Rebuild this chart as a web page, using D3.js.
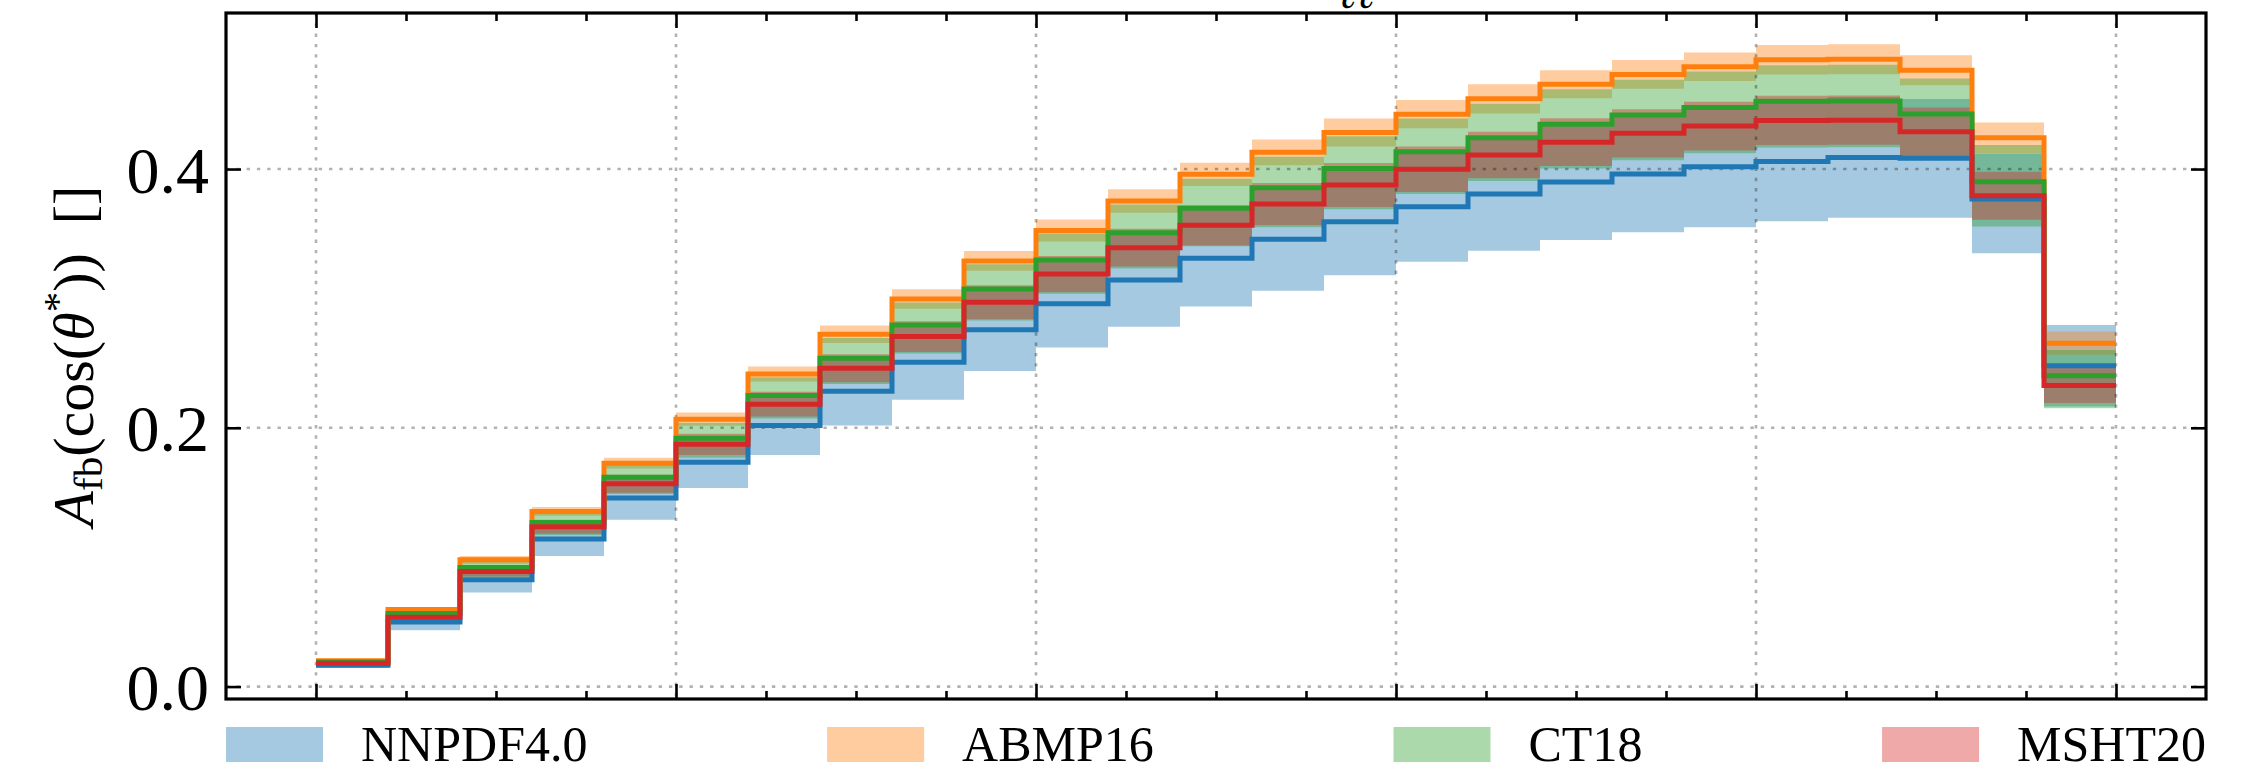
<!DOCTYPE html>
<html><head><meta charset="utf-8">
<script src="https://cdn.jsdelivr.net/npm/d3@7"></script>
<style>
html,body{margin:0;padding:0;background:#fff;}
svg{display:block;}
</style></head><body>
<svg id="chart" width="2260" height="772"></svg>
<script>
// ---------------- data ----------------
const seriesNames  = ["NNPDF4.0", "ABMP16", "CT18", "MSHT20"];
const seriesColors = ["#1f77b4", "#ff7f0e", "#2ca02c", "#d62728"];
const binEdges = [0,1,2,3,4,5,6,7,8,9,10,11,12,13,14,15,16,17,18,19,20,21,22,23,24,25];

const nnpdfCentral = [0.0165,0.0499,0.0826,0.1140,0.1457,0.1734,0.2018,0.2283,0.2507,0.2757,0.2958,0.3143,0.3310,0.3457,0.3593,0.3709,0.3807,0.3900,0.3961,0.4018,0.4059,0.4090,0.4083,0.3768,0.2479];
const nnpdfLow     = [0.0145,0.0435,0.0728,0.1010,0.1290,0.1534,0.1790,0.2018,0.2216,0.2440,0.2620,0.2782,0.2937,0.3060,0.3179,0.3284,0.3369,0.3452,0.3511,0.3550,0.3597,0.3624,0.3624,0.3349,0.2165];
const nnpdfHigh    = [0.0185,0.0563,0.0924,0.1270,0.1624,0.1934,0.2246,0.2548,0.2798,0.3074,0.3296,0.3504,0.3683,0.3854,0.4007,0.4134,0.4245,0.4348,0.4411,0.4486,0.4521,0.4556,0.4542,0.4120,0.2795];

const abmpCentral  = [0.0200,0.0595,0.0980,0.1354,0.1727,0.2067,0.2415,0.2723,0.2996,0.3290,0.3525,0.3753,0.3959,0.4129,0.4283,0.4424,0.4543,0.4656,0.4731,0.4790,0.4844,0.4849,0.4764,0.4242,0.2654];
const abmpLow      = [0.0190,0.0575,0.0950,0.1320,0.1686,0.2015,0.2357,0.2656,0.2921,0.3213,0.3440,0.3663,0.3869,0.4029,0.4175,0.4315,0.4430,0.4548,0.4620,0.4680,0.4730,0.4733,0.4648,0.4124,0.2564];
const abmpHigh     = [0.0210,0.0615,0.1010,0.1388,0.1768,0.2119,0.2473,0.2790,0.3071,0.3367,0.3610,0.3843,0.4049,0.4229,0.4391,0.4533,0.4656,0.4764,0.4842,0.4900,0.4958,0.4965,0.4880,0.4360,0.2744];

const ct18Central  = [0.0190,0.0564,0.0920,0.1269,0.1617,0.1920,0.2250,0.2538,0.2795,0.3073,0.3297,0.3508,0.3696,0.3856,0.4005,0.4134,0.4242,0.4347,0.4417,0.4476,0.4523,0.4525,0.4425,0.3902,0.2402];
const ct18Low      = [0.0175,0.0519,0.0847,0.1169,0.1489,0.1768,0.2072,0.2338,0.2574,0.2830,0.3037,0.3231,0.3404,0.3551,0.3689,0.3807,0.3907,0.4004,0.4068,0.4122,0.4166,0.4168,0.4075,0.3555,0.2152];
const ct18High     = [0.0202,0.0599,0.0977,0.1348,0.1717,0.2039,0.2390,0.2695,0.2968,0.3264,0.3501,0.3726,0.3925,0.4095,0.4253,0.4390,0.4505,0.4617,0.4691,0.4754,0.4803,0.4806,0.4699,0.4185,0.2602];

const mshtCentral  = [0.0180,0.0535,0.0890,0.1236,0.1568,0.1872,0.2183,0.2461,0.2705,0.2971,0.3188,0.3392,0.3565,0.3730,0.3876,0.3999,0.4108,0.4208,0.4276,0.4332,0.4376,0.4378,0.4288,0.3794,0.2327];
const mshtLow      = [0.0172,0.0511,0.0851,0.1182,0.1499,0.1790,0.2087,0.2353,0.2586,0.2840,0.3048,0.3246,0.3410,0.3568,0.3706,0.3823,0.3928,0.4024,0.4089,0.4143,0.4185,0.4187,0.4100,0.3609,0.2192];
const mshtHigh     = [0.0188,0.0559,0.0929,0.1290,0.1637,0.1954,0.2279,0.2569,0.2824,0.3102,0.3328,0.3538,0.3720,0.3892,0.4046,0.4175,0.4288,0.4392,0.4463,0.4521,0.4567,0.4569,0.4476,0.3979,0.2462];

const yTickValues = [0.0, 0.2, 0.4];
const yTickLabels = ["0.0", "0.2", "0.4"];
const xMajorTicks = [0, 5, 10, 15, 20, 25];
const yLabelParts = ["A", "fb", "(cos(", "θ", "*", "))  []"];
const topFragment = "ℓℓ";

// ---------------- layout ----------------
const W = 2260, H = 772;
const margin = {left: 226, right: 54, top: 13, bottom: 73};
const plotL = margin.left, plotR = W - margin.right, plotT = margin.top, plotB = H - margin.bottom;
const serif = "'Liberation Serif', 'DejaVu Serif', serif";

const series = [
  {name: seriesNames[0], color: seriesColors[0], c: nnpdfCentral, lo: nnpdfLow, hi: nnpdfHigh},
  {name: seriesNames[1], color: seriesColors[1], c: abmpCentral,  lo: abmpLow,  hi: abmpHigh},
  {name: seriesNames[2], color: seriesColors[2], c: ct18Central,  lo: ct18Low,  hi: ct18High},
  {name: seriesNames[3], color: seriesColors[3], c: mshtCentral,  lo: mshtLow,  hi: mshtHigh}
];

const nBins = binEdges.length - 1;
const xPad = 0.05 * (binEdges[nBins] - binEdges[0]);
const x = d3.scaleLinear()
  .domain([binEdges[0] - xPad, binEdges[nBins] + xPad])
  .range([plotL, plotR]);

const allV = series.flatMap(s => s.lo.concat(s.hi));
const vMin = d3.min(allV), vMax = d3.max(allV);
const yPad = 0.05 * (vMax - vMin);
const y = d3.scaleLinear().domain([vMin - yPad, vMax + yPad]).range([plotB, plotT]);

const svg = d3.select("#chart");
svg.append("rect").attr("width", W).attr("height", H).attr("fill", "#fff");

const stepData = s => binEdges.map((e, i) => {
  const k = Math.min(i, nBins - 1);
  return {x: e, c: s.c[k], lo: s.lo[k], hi: s.hi[k]};
});

// fills
const area = d3.area().x(d => x(d.x)).y0(d => y(d.lo)).y1(d => y(d.hi)).curve(d3.curveStepAfter);
const gFill = svg.append("g");
series.forEach(s => {
  gFill.append("path").attr("d", area(stepData(s)))
    .attr("fill", s.color).attr("fill-opacity", 0.4).attr("stroke", "none");
});

// grid
const gGrid = svg.append("g").attr("stroke", "#000").attr("stroke-opacity", 0.3)
  .attr("stroke-width", 2.6).attr("stroke-dasharray", "3.4,6.9");
xMajorTicks.forEach(t => {
  gGrid.append("line").attr("x1", x(t)).attr("x2", x(t)).attr("y1", plotT).attr("y2", plotB);
});
yTickValues.forEach(t => {
  gGrid.append("line").attr("x1", plotL).attr("x2", plotR).attr("y1", y(t)).attr("y2", y(t));
});

// step lines
const line = d3.line().x(d => x(d.x)).y(d => y(d.c)).curve(d3.curveStepAfter);
const gLines = svg.append("g");
series.forEach(s => {
  gLines.append("path").attr("d", line(stepData(s)))
    .attr("fill", "none").attr("stroke", s.color).attr("stroke-width", 5)
    .attr("stroke-linejoin", "miter");
});

// axes (inward ticks)
const xMinorTicks = d3.range(binEdges[0], binEdges[nBins] + 0.001, 1.25).filter(t => !xMajorTicks.includes(t));
function styleAxis(g) {
  g.select(".domain").remove();
  g.selectAll(".tick line").attr("stroke", "#000").attr("stroke-width", 2.6);
}
svg.append("g").attr("transform", `translate(0,${plotB})`)
  .call(d3.axisBottom(x).tickValues(xMajorTicks).tickSize(-15).tickFormat("")).call(styleAxis);
svg.append("g").attr("transform", `translate(0,${plotB})`)
  .call(d3.axisBottom(x).tickValues(xMinorTicks).tickSize(-8).tickFormat("")).call(styleAxis);
svg.append("g").attr("transform", `translate(0,${plotT})`)
  .call(d3.axisTop(x).tickValues(xMajorTicks).tickSize(-15).tickFormat("")).call(styleAxis);
svg.append("g").attr("transform", `translate(0,${plotT})`)
  .call(d3.axisTop(x).tickValues(xMinorTicks).tickSize(-8).tickFormat("")).call(styleAxis);
svg.append("g").attr("transform", `translate(${plotR},0)`)
  .call(d3.axisRight(y).tickValues(yTickValues).tickSize(-15).tickFormat("")).call(styleAxis);
const yAx = svg.append("g").attr("transform", `translate(${plotL},0)`)
  .call(d3.axisLeft(y).tickValues(yTickValues).tickSize(-15).tickPadding(17)
    .tickFormat((d, i) => yTickLabels[i])).call(styleAxis);
yAx.selectAll(".tick text").attr("font-family", serif).attr("font-size", 66)
  .attr("fill", "#000").attr("dy", "0.35em");

// frame
svg.append("rect").attr("x", plotL).attr("y", plotT).attr("width", plotR - plotL).attr("height", plotB - plotT)
  .attr("fill", "none").attr("stroke", "#000").attr("stroke-width", 3.2);

// y label
const yl = svg.append("text").attr("transform", `translate(93,${(plotT + plotB) / 2}) rotate(-90)`)
  .attr("text-anchor", "middle").attr("font-family", serif).attr("font-size", 58).attr("fill", "#000")
  .attr("xml:space", "preserve").style("white-space", "pre");
yl.append("tspan").attr("font-style", "italic").text(yLabelParts[0]);
yl.append("tspan").attr("font-size", 41).attr("dy", 9).text(yLabelParts[1]);
yl.append("tspan").attr("dy", -9).text(yLabelParts[2]);
yl.append("tspan").attr("font-style", "italic").text(yLabelParts[3]);
yl.append("tspan").attr("font-size", 41).attr("dy", -22).text(yLabelParts[4]);
yl.append("tspan").attr("dy", 22).text(yLabelParts[5]);

// top fragment (bottom of a clipped title)
svg.append("text").attr("x", 1338).attr("y", 8).attr("font-family", "'DejaVu Serif', serif")
  .attr("font-style", "italic").attr("font-size", 44).attr("fill", "#000").text(topFragment);

// legend (expand mode across axes width)
const patchW = 97, patchH = 35, patchGap = 38, legFont = 50;
const legY = 727;
const gLeg = svg.append("g");
const items = series.map(s => {
  const g = gLeg.append("g");
  g.append("rect").attr("width", patchW).attr("height", patchH).attr("fill", s.color).attr("fill-opacity", 0.4);
  const t = g.append("text").attr("x", patchW + patchGap).attr("y", patchH - 1).attr("font-family", serif)
    .attr("font-size", legFont).attr("fill", "#000").text(s.name);
  return {g, w: patchW + patchGap + t.node().getComputedTextLength()};
});
const totalW = d3.sum(items, d => d.w);
const colGap = (plotR - plotL - totalW) / (items.length - 1);
let cx = plotL;
items.forEach(it => { it.g.attr("transform", `translate(${cx},${legY})`); cx += it.w + colGap; });
</script>
</body></html>
